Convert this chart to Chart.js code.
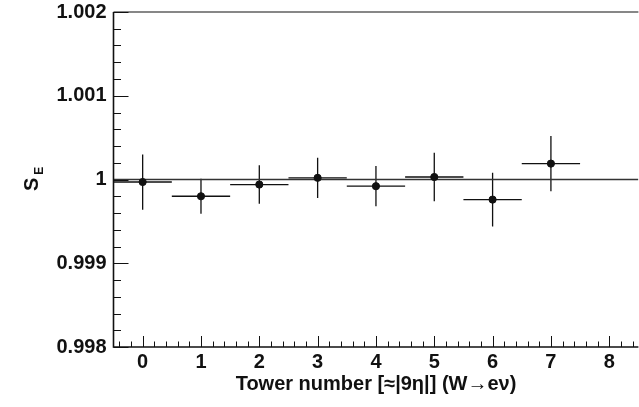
<!DOCTYPE html>
<html>
<head>
<meta charset="utf-8">
<script src="https://cdn.jsdelivr.net/npm/chart.js@4.4.0/dist/chart.umd.min.js"></script>
<style>
  html, body { margin: 0; padding: 0; background: #fff; overflow: hidden; }
  #wrap { position: relative; width: 643px; height: 407px; }
</style>
</head>
<body>
<div id="wrap"><canvas id="graph_se"></canvas></div>
<script>
// tower numbers and measured S_E with errors
const towers = [0, 1, 2, 3, 4, 5, 6, 7];
const seValues = [0.99997, 0.99980, 0.99994, 1.00002, 0.99992, 1.00003, 0.99976, 1.00019];
const seErrors = [0.00033, 0.00021, 0.00023, 0.00024, 0.00024, 0.00029, 0.00032, 0.00033];
const binHalfWidth = 0.5;
const refLine = 1;

// axis ticks
const xTickValues = [0, 1, 2, 3, 4, 5, 6, 7, 8];
const yTickValues = [0.998, 0.999, 1, 1.001, 1.002];
const yTickLabels = ['0.998', '0.999', '1', '1.001', '1.002'];

const xTitle = 'Tower number [\u2248|9\u03b7|] (W\u2192e\u03bd)';
const yTitleMain = 'S';
const yTitleSub = 'E';

const FONT = '"Liberation Sans", Arial, sans-serif';

// error bars + frame, minor ticks, titles
const rootStyle = {
  id: 'rootStyle',
  beforeDatasetsDraw(chart) {
    const ctx = chart.ctx;
    const x = chart.scales.x, y = chart.scales.y;
    ctx.save();
    ctx.strokeStyle = '#111';
    ctx.lineWidth = 1.3;
    towers.forEach((t, i) => {
      const px = x.getPixelForValue(t);
      const py = y.getPixelForValue(seValues[i]);
      ctx.beginPath();
      ctx.moveTo(x.getPixelForValue(t - binHalfWidth), py);
      ctx.lineTo(x.getPixelForValue(t + binHalfWidth), py);
      ctx.moveTo(px, y.getPixelForValue(seValues[i] - seErrors[i]));
      ctx.lineTo(px, y.getPixelForValue(seValues[i] + seErrors[i]));
      ctx.stroke();
    });
    ctx.restore();
  },
  afterDraw(chart) {
    const ctx = chart.ctx;
    const a = chart.chartArea;
    const x = chart.scales.x, y = chart.scales.y;
    ctx.save();
    ctx.strokeStyle = '#111';
    // frame
    ctx.lineWidth = 1.2;
    ctx.beginPath();
    ctx.moveTo(a.left, a.top); ctx.lineTo(a.right, a.top);
    ctx.stroke();
    ctx.lineWidth = 1.6;
    ctx.beginPath();
    ctx.moveTo(a.left, a.top); ctx.lineTo(a.left, a.bottom); ctx.lineTo(a.right, a.bottom);
    ctx.stroke();

    // ticks pointing inward
    ctx.lineWidth = 1;
    ctx.beginPath();
    for (let k = -2; k <= 42; k++) {
      const v = k * 0.2;
      if (v < x.min || v > x.max) continue;
      const px = Math.round(x.getPixelForValue(v)) + 0.5;
      const len = k % 5 === 0 ? 11 : 5.5;
      ctx.moveTo(px, a.bottom); ctx.lineTo(px, a.bottom - len);
    }
    for (let k = 0; k <= 20; k++) {
      const v = 0.998 + k * 0.0002;
      const py = Math.round(y.getPixelForValue(v)) + 0.5;
      const len = k % 5 === 0 ? 15 : 7.5;
      ctx.moveTo(a.left, py); ctx.lineTo(a.left + len, py);
    }
    ctx.stroke();

    // titles
    ctx.fillStyle = '#111';
    ctx.font = 'bold 20px ' + FONT;
    ctx.textAlign = 'center';
    ctx.textBaseline = 'alphabetic';
    ctx.fillText(xTitle, 376, 390);

    ctx.translate(38, 191);
    ctx.rotate(-Math.PI / 2);
    ctx.textAlign = 'left';
    ctx.font = 'bold 20px ' + FONT;
    ctx.fillText(yTitleMain, 0, 0);
    const w = ctx.measureText(yTitleMain).width;
    ctx.font = 'bold 12px ' + FONT;
    ctx.fillText(yTitleSub, w + 3, 5);
    ctx.restore();
  }
};

new Chart(document.getElementById('graph_se').getContext('2d'), {
  type: 'scatter',
  plugins: [rootStyle],
  data: {
    datasets: [{
      label: 'S_E',
      data: towers.map((t, i) => ({ x: t, y: seValues[i] })),
      backgroundColor: '#111',
      borderColor: '#111',
      pointRadius: 3.6,
      pointHoverRadius: 3.6,
      order: 1
    }, {
      label: 'ref',
      type: 'line',
      data: [{ x: -0.5, y: refLine }, { x: 8.5, y: refLine }],
      borderColor: '#333',
      borderWidth: 1.3,
      pointRadius: 0,
      fill: false,
      order: 2
    }]
  },
  options: {
    responsive: true,
    maintainAspectRatio: false,
    animation: false,
    events: [],
    layout: { padding: { top: 12, left: 0, right: 0, bottom: 0 } },
    plugins: {
      legend: { display: false },
      tooltip: { enabled: false }
    },
    scales: {
      x: {
        type: 'linear',
        min: -0.5,
        max: 8.5,
        afterFit: s => { s.height = 60; s.paddingLeft = 0; s.paddingRight = 0; },
        afterBuildTicks: s => { s.ticks = xTickValues.map(v => ({ value: v })); },
        grid: { display: false, drawTicks: false },
        border: { display: false },
        ticks: {
          padding: 3,
          color: '#111',
          font: { family: FONT, size: 20, weight: 'bold' },
          callback: v => String(v)
        }
      },
      y: {
        type: 'linear',
        min: 0.998,
        max: 1.002,
        afterFit: s => { s.width = 113.5; s.paddingTop = 0; s.paddingBottom = 0; },
        afterBuildTicks: s => { s.ticks = yTickValues.map(v => ({ value: v })); },
        grid: { display: false, drawTicks: false },
        border: { display: false },
        ticks: {
          padding: 7,
          color: '#111',
          font: { family: FONT, size: 20, weight: 'bold' },
          callback: (v, i) => yTickLabels[i]
        }
      }
    }
  }
});
</script>
</body>
</html>
